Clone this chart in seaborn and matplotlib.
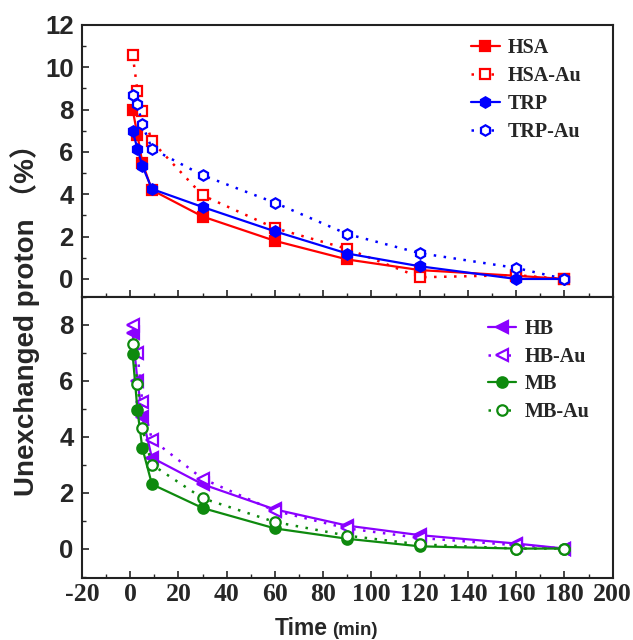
import matplotlib
matplotlib.use("Agg")
import numpy as np
import pandas as pd
import matplotlib.pyplot as plt
from matplotlib.ticker import MultipleLocator
import seaborn as sns

# Sampling times (min)
time_min = [1, 3, 5, 9, 30, 60, 90, 120, 160, 180]

# Top panel series (unexchanged proton, %)
hsa = [8.0, 6.8, 5.5, 4.2, 2.95, 1.8, 0.92, 0.42, 0.15, 0.0]
hsa_au = [10.6, 8.9, 7.95, 6.5, 3.95, 2.4, 1.42, 0.08, 0.18, 0.0]
trp = [7.0, 6.15, 5.35, 4.25, 3.4, 2.25, 1.2, 0.6, 0.0, 0.0]
trp_au = [8.7, 8.25, 7.3, 6.15, 4.9, 3.6, 2.12, 1.22, 0.52, 0.0]

# Bottom panel series
hb = [7.7, 6.0, 4.7, 3.25, 2.3, 1.4, 0.82, 0.48, 0.18, 0.0]
hb_au = [8.0, 7.0, 5.25, 3.9, 2.5, 1.35, 0.72, 0.38, 0.12, 0.0]
mb = [6.95, 4.95, 3.6, 2.3, 1.45, 0.72, 0.35, 0.08, 0.0, 0.0]
mb_au = [7.3, 5.9, 4.3, 3.0, 1.8, 0.95, 0.46, 0.15, 0.0, 0.0]

sns.set_style("ticks")
plt.rcParams["font.family"] = ["Liberation Serif", "DejaVu Serif"]
plt.rcParams["axes.unicode_minus"] = False

RED, BLUE, PURPLE, GREEN = "#ff0000", "#0000ff", "#8a00ff", "#0e8a0e"
DOT = (0, (1, 3))

top_series = [
    ("HSA", hsa, RED, "s", True),
    ("HSA-Au", hsa_au, RED, "s", False),
    ("TRP", trp, BLUE, "h", True),
    ("TRP-Au", trp_au, BLUE, "h", False),
]
bottom_series = [
    ("HB", hb, PURPLE, "<", True),
    ("HB-Au", hb_au, PURPLE, "<", False),
    ("MB", mb, GREEN, "o", True),
    ("MB-Au", mb_au, GREEN, "o", False),
]

fig = plt.figure(figsize=(6.33, 6.4), dpi=100)
ax_top = fig.add_axes([0.1295, 0.536, 0.8385, 0.425])
ax_bot = fig.add_axes([0.1295, 0.097, 0.8385, 0.439], sharex=ax_top)


def draw(ax, series, anchor, spacing):
    for name, vals, color, marker, filled in series:
        df = pd.DataFrame({"t": time_min, "v": vals})
        sns.lineplot(
            data=df, x="t", y="v", ax=ax, color=color, marker=marker,
            markersize=7.5 if marker != "<" else 8.5,
            markerfacecolor=color if filled else "white",
            markeredgecolor=color, markeredgewidth=1.6,
            linewidth=1.6 if filled else 1.8,
            linestyle="-" if filled else DOT,
            estimator=None, sort=False, label=name,
        )
    ax.legend(
        loc="upper right", bbox_to_anchor=anchor, frameon=False,
        handlelength=1.4, handletextpad=0.4, labelspacing=spacing,
        prop={"family": "Liberation Serif", "weight": "bold", "size": 14.5},
    )
    ax.set_xlabel("")
    ax.set_ylabel("")


draw(ax_top, top_series, (0.975, 1.02), 0.4)
draw(ax_bot, bottom_series, (0.99, 0.985), 0.37)

ax_top.set_xlim(-20, 200)
ax_top.set_ylim(-0.85, 12.0)
ax_bot.set_ylim(-1.05, 9.0)

ax_top.set_yticks([0, 2, 4, 6, 8, 10, 12])
ax_bot.set_yticks([0, 2, 4, 6, 8])
ax_bot.set_xticks(np.arange(-20, 201, 20))

for ax in (ax_top, ax_bot):
    ax.xaxis.set_minor_locator(MultipleLocator(10))
    ax.yaxis.set_minor_locator(MultipleLocator(1))
    ax.tick_params(which="both", direction="in", top=False, right=False)
    ax.tick_params(which="major", length=5, width=1.2)
    ax.tick_params(which="minor", length=3, width=1.0)
    ax.tick_params(axis="y", pad=6)
    for sp in ax.spines.values():
        sp.set_linewidth(1.5)
        sp.set_color("#222222")
    for lab in ax.get_yticklabels():
        lab.set_family("Liberation Sans")
        lab.set_weight("bold")
        lab.set_fontsize(18.5)

ax_top.tick_params(axis="x", labelbottom=False)
for lab in ax_bot.get_xticklabels():
    lab.set_family("Liberation Serif")
    lab.set_weight("bold")
    lab.set_fontsize(18.5)

fig.text(0.04, 0.51, "Unexchanged proton （%）", rotation=90, ha="center", va="center",
         fontsize=20, fontweight="bold", family=["Liberation Sans", "Noto Sans CJK SC"])
fig.text(0.517, 0.008, "Time", ha="right", va="baseline",
         fontsize=16.5, fontweight="bold", family=["Liberation Sans"])
fig.text(0.524, 0.008, "(min)", ha="left", va="baseline",
         fontsize=13.5, fontweight="bold", family=["Liberation Sans"])

fig.savefig("out.png", dpi=100)
